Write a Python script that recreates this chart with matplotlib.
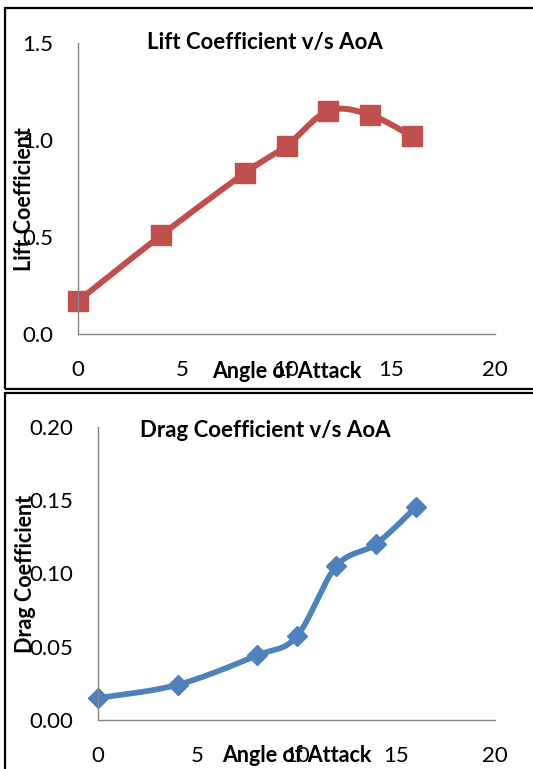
import numpy as np
import matplotlib
matplotlib.use("Agg")
import matplotlib.pyplot as plt
from matplotlib.patches import Rectangle

plt.rcParams['font.family'] = ['Lato', 'DejaVu Sans']

# Data
angle = [0, 4, 8, 10, 12, 14, 16]
lift_coeff = [0.17, 0.51, 0.83, 0.97, 1.15, 1.13, 1.02]
drag_coeff = [0.015, 0.024, 0.044, 0.057, 0.105, 0.120, 0.145]

lift_ticks = [0.0, 0.5, 1.0, 1.5]
lift_tick_labels = ["0.0", "0.5", "1.0", "1.5"]
drag_ticks = [0.00, 0.05, 0.10, 0.15, 0.20]
drag_tick_labels = ["0.00", "0.05", "0.10", "0.15", "0.20"]
x_ticks = [0, 5, 10, 15, 20]
x_tick_labels = ["0", "5", "10", "15", "20"]

RED = "#C0504D"
BLUE = "#4F81BD"
AXIS_GRAY = "#878787"

W, H = 533, 769
DPI = 100
fig = plt.figure(figsize=(W / DPI, H / DPI), dpi=DPI)


def px_rect(left, top, right, bottom):
    return [left / W, 1 - bottom / H, (right - left) / W, (bottom - top) / H]


def smooth_path(ax, xs, ys, n=30):
    """Catmull-Rom style smoothing computed in screen space, like spreadsheet smoothed lines."""
    fig.canvas.draw()
    pts = ax.transData.transform(np.column_stack([xs, ys]))
    p = np.vstack([pts[0], pts, pts[-1]])
    out = []
    for i in range(1, len(p) - 2):
        p0, p1, p2, p3 = p[i - 1], p[i], p[i + 1], p[i + 2]
        c1 = p1 + (p2 - p0) / 6.0
        c2 = p2 - (p3 - p1) / 6.0
        t = np.linspace(0, 1, n)[:, None]
        seg = ((1 - t) ** 3) * p1 + 3 * ((1 - t) ** 2) * t * c1 + 3 * (1 - t) * t ** 2 * c2 + t ** 3 * p2
        out.append(seg if i == 1 else seg[1:])
    out = np.vstack(out)
    return ax.transData.inverted().transform(out)


def style_axes(ax, yticks, ylabels, ylim):
    ax.set_xlim(0, 20)
    ax.set_ylim(*ylim)
    for s in ("top", "right"):
        ax.spines[s].set_visible(False)
    for s in ("left", "bottom"):
        ax.spines[s].set_color(AXIS_GRAY)
        ax.spines[s].set_linewidth(1.0)
    ax.set_xticks(x_ticks)
    ax.set_xticklabels(x_tick_labels)
    ax.set_yticks(yticks)
    ax.set_yticklabels(ylabels)
    ax.tick_params(axis="both", length=0, labelsize=16, colors="black")
    ax.tick_params(axis="y", pad=18)
    ax.tick_params(axis="x", pad=19)
    ax.set_facecolor("none")


# Panel frames
fig.patches.append(Rectangle((5 / W, 1 - 389 / H), 600 / W, (389 - 8) / H,
                             transform=fig.transFigure, fill=False,
                             edgecolor="black", linewidth=1.6))
fig.patches.append(Rectangle((5 / W, 1 - 900 / H), 600 / W, (900 - 393) / H,
                             transform=fig.transFigure, fill=False,
                             edgecolor="black", linewidth=1.6))

# Lift coefficient chart
ax1 = fig.add_axes(px_rect(78, 43, 495, 334))
style_axes(ax1, lift_ticks, lift_tick_labels, (0, 1.5))
curve = smooth_path(ax1, angle, lift_coeff)
ax1.plot(curve[:, 0], curve[:, 1], color=RED, linewidth=4.3, solid_capstyle="round", clip_on=False)
ax1.plot(angle, lift_coeff, linestyle="none", marker="s", markersize=14,
         color=RED, markeredgecolor=RED, clip_on=False)
fig.text(265 / W, 1 - 43 / H, "Lift Coefficient v/s AoA", ha="center", va="center",
         fontsize=16, fontweight="bold")
fig.text(287 / W, 1 - 371 / H, "Angle of Attack", ha="center", va="center",
         fontsize=15.5, fontweight="bold")
fig.text(25 / W, 1 - 199 / H, "Lift Coefficient", ha="center", va="center",
         fontsize=15.5, fontweight="bold", rotation=90)

# Drag coefficient chart
ax2 = fig.add_axes(px_rect(98.3, 426.7, 495, 720))
style_axes(ax2, drag_ticks, drag_tick_labels, (0, 0.20))
curve = smooth_path(ax2, angle, drag_coeff)
ax2.plot(curve[:, 0], curve[:, 1], color=BLUE, linewidth=4.1, solid_capstyle="round", clip_on=False)
ax2.plot(angle, drag_coeff, linestyle="none", marker="D", markersize=9.7,
         color=BLUE, markeredgecolor=BLUE, clip_on=False)
fig.text(265 / W, 1 - 430 / H, "Drag Coefficient v/s AoA", ha="center", va="center",
         fontsize=16, fontweight="bold")
fig.text(297 / W, 1 - 756 / H, "Angle of Attack", ha="center", va="center",
         fontsize=15.5, fontweight="bold")
fig.text(26 / W, 1 - 574 / H, "Drag Coefficient", ha="center", va="center",
         fontsize=15.5, fontweight="bold", rotation=90)

fig.savefig("out.png", dpi=DPI)
